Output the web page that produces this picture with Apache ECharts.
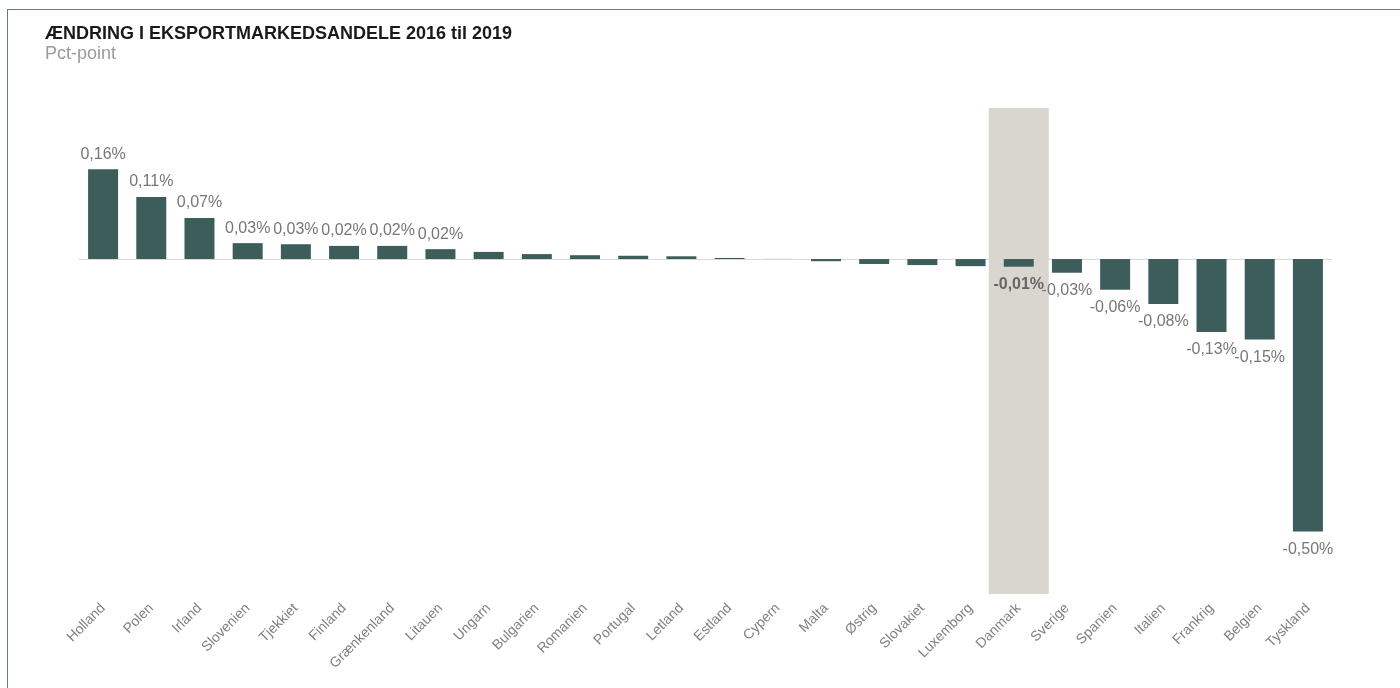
<!DOCTYPE html>
<html>
<head>
<meta charset="utf-8">
<script src="https://cdn.jsdelivr.net/npm/echarts@6/dist/echarts.min.js"></script>
<style>
  html, body { margin: 0; padding: 0; background: #fff; overflow: hidden; }
  #frame { position: absolute; left: 7px; top: 9px; width: 1500px; height: 800px; border: 1px solid #5a7c8d; box-sizing: border-box; }
  #chart { position: absolute; left: 0; top: 0; width: 1400px; height: 688px; }
</style>
</head>
<body>
<div id="frame"></div>
<div id="chart"></div>
<script>
const categories = ['Holland','Polen','Irland','Slovenien','Tjekkiet','Finland','Grænkenland','Litauen','Ungarn','Bulgarien','Romanien','Portugal','Letland','Estland','Cypern','Malta','Østrig','Slovakiet','Luxemborg','Danmark','Sverige','Spanien','Italien','Frankrig','Belgien','Tyskland'];
const values = [0.164, 0.113, 0.075, 0.029, 0.027, 0.024, 0.024, 0.018, 0.013, 0.009, 0.007, 0.006, 0.005, 0.002, 0.0002, -0.004, -0.009, -0.011, -0.013, -0.014, -0.025, -0.056, -0.082, -0.133, -0.147, -0.497];
const labeled = ['Holland','Polen','Irland','Slovenien','Tjekkiet','Finland','Grænkenland','Litauen','Danmark','Sverige','Spanien','Italien','Frankrig','Belgien','Tyskland'];
const highlight = 'Danmark';
const titleText = 'ÆNDRING I EKSPORTMARKEDSANDELE 2016 til 2019';
const subtitleText = 'Pct-point';

const fmt = v => v.toFixed(2).replace('.', ',') + '%';
const font = '"Liberation Sans", Arial, sans-serif';

const barData = values.map((v, i) => {
  const c = categories[i];
  const show = labeled.includes(c);
  const isHi = c === highlight;
  return {
    value: v,
    label: {
      show: show,
      position: v >= 0 ? 'top' : 'bottom',
      distance: v >= 0 ? 7 : 10,
      fontWeight: isHi ? 'bold' : 'normal',
      color: isHi ? '#666666' : '#777777'
    }
  };
});
const bandData = categories.map(c => c === highlight ? 1 : null);

const chart = echarts.init(document.getElementById('chart'));
chart.setOption({
  animation: false,
  textStyle: { fontFamily: font },
  title: [
    { text: titleText, left: 45, top: 25, padding: 0, textStyle: { fontSize: 18, fontWeight: 'bold', color: '#1a1a1a', fontFamily: font } },
    { text: subtitleText, left: 45, top: 45, padding: 0, textStyle: { fontSize: 18, fontWeight: 'normal', color: '#9a9a9a', fontFamily: font } }
  ],
  grid: { left: 79, right: 68, top: 108, bottom: 94, containLabel: false },
  xAxis: [
    {
      type: 'category', data: categories,
      axisLine: { onZero: true, lineStyle: { color: '#d9d9d9', width: 1 } },
      axisTick: { show: false },
      axisLabel: { show: false }
    },
    {
      type: 'category', data: categories, position: 'bottom',
      axisLine: { show: false }, axisTick: { show: false },
      axisLabel: { rotate: 45, color: '#808080', fontSize: 14, margin: 12, interval: 0, fontFamily: font }
    }
  ],
  yAxis: [
    { type: 'value', min: -0.611, max: 0.2755, show: false, splitLine: { show: false } },
    { type: 'value', min: 0, max: 1, show: false, splitLine: { show: false } }
  ],
  series: [
    {
      type: 'bar', xAxisIndex: 1, yAxisIndex: 1, data: bandData, barWidth: 60,
      itemStyle: { color: '#d9d6d0' }, z: 1, silent: true
    },
    {
      type: 'bar', xAxisIndex: 0, yAxisIndex: 0, data: barData, barWidth: 30,
      itemStyle: { color: '#3d5d5b' }, z: 3,
      label: { formatter: p => fmt(p.value), fontSize: 16, fontFamily: font }
    }
  ]
});
</script>
</body>
</html>
